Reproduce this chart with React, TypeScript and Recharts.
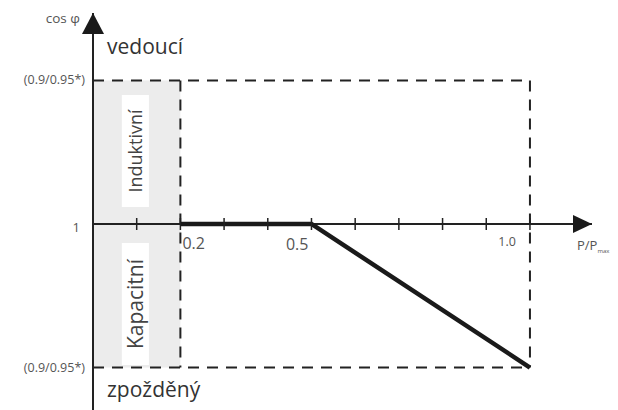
import React from 'react';
import {
  LineChart,
  Line,
  XAxis,
  YAxis,
  ReferenceLine,
  ReferenceArea,
  ReferenceDot,
  Label,
} from 'recharts';

// characteristic curve: P/Pn -> cos phi (0 = 1, +1 leading limit, -1 lagging limit)
const curve = [
  { x: 0.2, y: 0 },
  { x: 0.5, y: 0 },
  { x: 1.0, y: -1 },
];

const xTicks = [0.1, 0.2, 0.3, 0.4, 0.5, 0.6, 0.7, 0.8, 0.9, 1.0];
const xTickLabels = ['0.2', '0.5', '1.0'];
const yTickLabels = ['(0.9/0.95*)', '1', '(0.9/0.95*)'];
const yLevels = [1, 0, -1];
const limitX = 1.0;
const startX = 0.2;

const X_MAX = 1.142;
const Y_MIN = -1.296;
const Y_MAX = 1.47;

const AXIS = '#222';
const GREY_TEXT = '#555';

const txt = (
  value: React.ReactNode,
  dx: number,
  dy: number,
  anchor: 'start' | 'middle' | 'end',
  size: number,
  fill = GREY_TEXT
) => (p: any) => (
  <text x={p.cx + dx} y={p.cy + dy} textAnchor={anchor} fontSize={size} fill={fill}>
    {value}
  </text>
);

const tickMark = (p: any) => (
  <line x1={p.cx} x2={p.cx} y1={p.cy - 6} y2={p.cy + 6} stroke={AXIS} strokeWidth={1.5} />
);

const upArrow = (p: any) => (
  <polygon points={`${p.cx},${p.cy} ${p.cx - 11},${p.cy + 21} ${p.cx + 11},${p.cy + 21}`} fill="#1a1a1a" />
);

const rightArrow = (p: any) => (
  <polygon points={`${p.cx},${p.cy} ${p.cx - 19},${p.cy - 9} ${p.cx - 19},${p.cy + 9}`} fill="#1a1a1a" />
);

const dash = { stroke: AXIS, strokeWidth: 2, strokeDasharray: '11 8' };

export default function App() {
  return (
    <div style={{ width: 610, height: 402, fontFamily: '"Open Sans", sans-serif' }}>
      <LineChart
        width={610}
        height={402}
        data={curve}
        margin={{ top: 5, right: 26, bottom: 0, left: 85 }}
      >
        <XAxis type="number" dataKey="x" domain={[0, X_MAX]} hide />
        <YAxis type="number" domain={[Y_MIN, Y_MAX]} hide />

        <ReferenceArea x1={0} x2={startX} y1={-1} y2={1} fill="#ececec" fillOpacity={1} stroke="none" />
        <ReferenceArea
          x1={0.066}
          x2={0.128}
          y1={0.118}
          y2={0.899}
          fill="#fff"
          fillOpacity={1}
          stroke="none"
          label={<Label value="Induktivní" angle={-90} position="center" fontSize={18} fill="#444" />}
        />
        <ReferenceArea
          x1={0.066}
          x2={0.128}
          y1={-0.983}
          y2={-0.132}
          fill="#fff"
          fillOpacity={1}
          stroke="none"
          label={<Label value="Kapacitní" angle={-90} position="center" fontSize={21} fill="#444" />}
        />

        <ReferenceLine segment={[{ x: 0, y: 1 }, { x: limitX, y: 1 }]} {...dash} />
        <ReferenceLine segment={[{ x: 0, y: -1 }, { x: limitX, y: -1 }]} {...dash} />
        <ReferenceLine segment={[{ x: startX, y: 1 }, { x: startX, y: -1 }]} {...dash} />
        <ReferenceLine segment={[{ x: limitX, y: 1 }, { x: limitX, y: -1 }]} {...dash} />

        <ReferenceLine x={0} stroke={AXIS} strokeWidth={2} />
        <ReferenceLine y={0} stroke={AXIS} strokeWidth={2} />
        {xTicks.map((t) => (
          <ReferenceDot key={`t${t}`} x={t} y={0} r={1} shape={tickMark} />
        ))}
        <ReferenceDot x={0} y={Y_MAX} r={1} shape={upArrow} />
        <ReferenceDot x={X_MAX} y={0} r={1} shape={rightArrow} />

        <ReferenceDot x={0.2} y={0} r={1} shape={txt(xTickLabels[0], 2, 25, 'start', 16)} />
        <ReferenceDot x={0.5} y={0} r={1} shape={txt(xTickLabels[1], -3, 26, 'end', 16)} />
        <ReferenceDot x={1.0} y={0} r={1} shape={txt(xTickLabels[2], -14, 22, 'end', 12.5)} />
        <ReferenceDot
          x={X_MAX}
          y={0}
          r={1}
          shape={txt(
            <>
              P/P<tspan fontSize={6} dy={3}>max</tspan>
            </>,
            -15,
            26,
            'start',
            13
          )}
        />

        {yLevels.map((v, i) => (
          <ReferenceDot
            key={`y${i}`}
            x={0}
            y={v}
            r={1}
            shape={txt(yTickLabels[i], v === 0 ? -13 : -8, v === 0 ? 8 : 4, 'end', v === 0 ? 13 : 12.5)}
          />
        ))}
        <ReferenceDot x={0} y={Y_MAX} r={1} shape={txt('cos φ', -13, 10, 'end', 13.5)} />
        <ReferenceDot x={0} y={1} r={1} shape={txt('vedoucí', 14, -26, 'start', 21, '#333')} />
        <ReferenceDot x={0} y={-1} r={1} shape={txt('zpožděný', 14, 29, 'start', 21, '#333')} />

        <Line
          type="linear"
          dataKey="y"
          stroke="#1a1a1a"
          strokeWidth={4.5}
          dot={false}
          isAnimationActive={false}
        />
      </LineChart>
    </div>
  );
}
